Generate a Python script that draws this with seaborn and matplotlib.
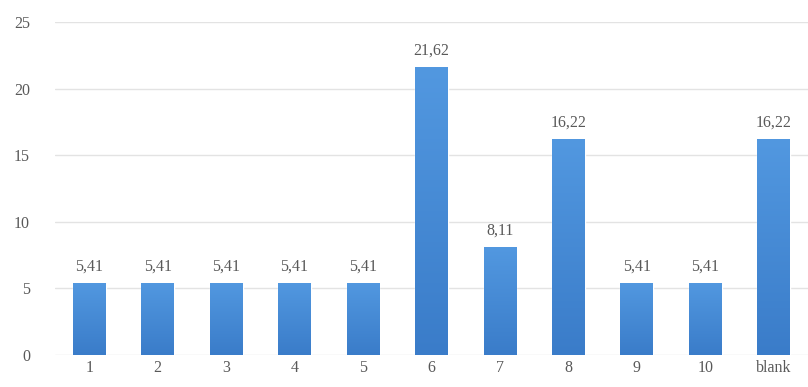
import matplotlib
matplotlib.use("Agg")
import matplotlib.pyplot as plt
import numpy as np
import pandas as pd
import seaborn as sns

categories = ["1", "2", "3", "4", "5", "6", "7", "8", "9", "10", "blank"]
values = [5.41, 5.41, 5.41, 5.41, 5.41, 21.62, 8.11, 16.22, 5.41, 5.41, 16.22]
y_ticks = [0, 5, 10, 15, 20, 25]

sns.set_theme(style="white")
plt.rcParams["font.family"] = ["Liberation Serif", "DejaVu Serif"]

df = pd.DataFrame({"cat": categories, "val": values})

fig = plt.figure(figsize=(8.08, 3.87), dpi=100)
ax = fig.add_axes([0.068, 0.083, 0.932, 0.86])

sns.barplot(data=df, x="cat", y="val", color="#4a8fd9", width=0.48,
            saturation=1, ax=ax, zorder=3)

# vertical gradient fill inside each bar
grad = np.linspace(0, 1, 256).reshape(-1, 1)
cmap = matplotlib.colors.LinearSegmentedColormap.from_list(
    "bar", ["#3a7cc9", "#5298e0"])
for patch in ax.patches:
    x0, y0 = patch.get_x(), patch.get_y()
    w, h = patch.get_width(), patch.get_height()
    im = ax.imshow(grad, extent=[x0, x0 + w, y0, y0 + h], origin="lower",
                   cmap=cmap, aspect="auto", zorder=4)
    im.set_clip_path(patch)

for i, v in enumerate(values):
    ax.text(i, v + 0.6, f"{v:.2f}".replace(".", ","), ha="center",
            va="bottom", fontsize=11.5, color="#595959", zorder=5)

ax.set_xlim(-0.5, len(categories) - 0.5)
ax.set_ylim(0, 25)
ax.set_yticks(y_ticks)
ax.yaxis.grid(True, color="#e3e3e3", linewidth=1)
ax.set_axisbelow(True)
for s in ax.spines.values():
    s.set_visible(False)
ax.set_xlabel("")
ax.set_ylabel("")
ax.tick_params(axis="y", length=0, pad=18, labelsize=11.5, labelcolor="#595959")
ax.tick_params(axis="x", length=0, pad=4, labelsize=11.5, labelcolor="#595959")

fig.savefig("out.png", dpi=100)
